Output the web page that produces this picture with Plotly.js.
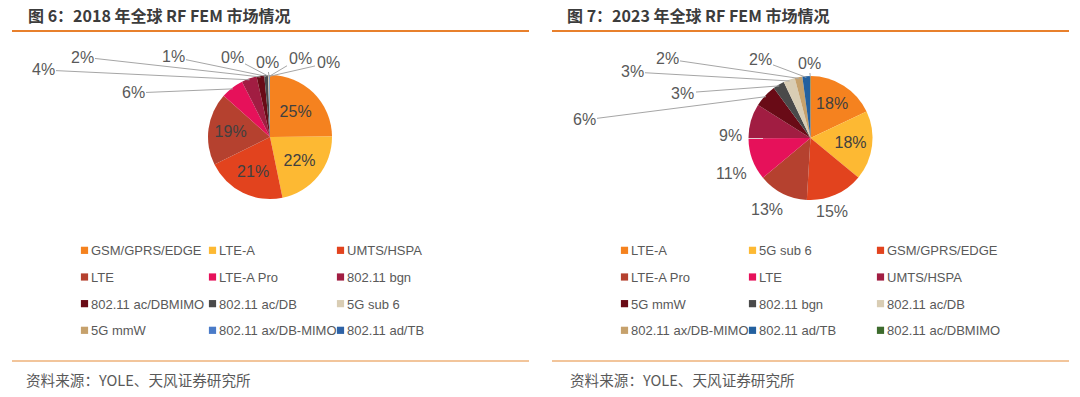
<!DOCTYPE html>
<html><head><meta charset="utf-8">
<script src="https://cdn.plot.ly/plotly-3.0.1.min.js"></script>
<style>
html,body{margin:0;padding:0;background:#fff;}
#wrap{width:1080px;height:397px;position:relative;overflow:hidden;background:#fff;}
.panel{position:absolute;top:0;width:540px;height:397px;}
#p1{left:0}
#p2{left:540px}
</style></head><body>
<div id="wrap"><div id="p1" class="panel"></div><div id="p2" class="panel"></div></div>
<script>
// ---------- DATA ----------
const categories2018 = ['GSM/GPRS/EDGE','LTE-A','UMTS/HSPA','LTE','LTE-A Pro','802.11 bgn','802.11 ac/DBMIMO','802.11 ac/DB','5G sub 6','5G mmW','802.11 ax/DB-MIMO','802.11 ad/TB'];
const values2018 = [25, 22, 21, 19, 6, 4, 2, 1, 0.2, 0.1, 0.1, 0.1];
const categories2023 = ['LTE-A','5G sub 6','GSM/GPRS/EDGE','LTE-A Pro','LTE','UMTS/HSPA','5G mmW','802.11 bgn','802.11 ac/DB','802.11 ax/DB-MIMO','802.11 ad/TB','802.11 ac/DBMIMO'];
const values2023 = [18, 18, 15, 13, 11, 9, 6, 3, 3, 2, 2, 0.1];
const title2018 = '图 6：2018 年全球 RF FEM 市场情况';
const title2023 = '图 7：2023 年全球 RF FEM 市场情况';
const sourceText = '资料来源：YOLE、天风证券研究所';

// ---------- STYLE / LAYOUT ----------
const colors2018 = ['#F5821F','#FDB933','#E2431E','#B5412F','#E6115A','#A11D42','#690B16','#4A4A4A','#D9CDB4','#C6A16C','#4A7BC8','#2E62A6'];
const colors2023 = ['#F5821F','#FDB933','#E2431E','#B5412F','#E6115A','#A11D42','#690B16','#4A4A4A','#D9CDB4','#C6A16C','#23609F','#3D6B2D'];
// label placement per slice: 'in' = inside, [x,y,leaderLine] = outside label position in px
const labels2018 = ['in','in','in','in',[133,93,true],[43,70,true],[82,57,true],[173,57,true],[232,57,true],[267,62,true],[300,58,true],[328,63,true]];
const labels2023 = ['in','in',[310,212,false],[227,209,false],[191,173,false],[190,125,false],[44,120,true],[143,93,true],[92,72,true],[127,59,true],[220,60,true],[269,63,true]];

const W = 540, H = 397, GW = 440;
const PX = px => px / GW, PY = py => 1 - py / H;
const FONT = 'Liberation Sans, Arial, sans-serif';
const CJK = 'Noto Sans CJK SC, sans-serif';

function buildPanel(div, cats, vals, cols, labelPlan, title, cx, cy, R, titleX, srcX) {
  const total = vals.reduce((a, b) => a + b, 0);
  const pct = vals.map(v => Math.round(v / total * 100) + '%');
  const text = pct.map((p, i) => labelPlan[i] === 'in' ? p : '');
  const annotations = [];
  let cum = 0;
  vals.forEach((v, i) => {
    const mid = (cum + v / 2) / total * 2 * Math.PI;
    cum += v;
    const plan = labelPlan[i];
    if (plan === 'in') return;
    const [lx, ly, line] = plan;
    if (line) {
      const px = cx + R * 0.98 * Math.sin(mid), py = cy - R * 0.98 * Math.cos(mid);
      annotations.push({xref:'paper', yref:'paper', x: PX(px), y: PY(py), ax: lx - px, ay: ly - py,
        axref:'pixel', ayref:'pixel', showarrow:true, arrowhead:0, arrowwidth:1, arrowcolor:'#A6A6A6', standoff:0,
        text: pct[i], font:{family:FONT, size:16, color:'#595959'}});
    } else {
      annotations.push({xref:'paper', yref:'paper', x: PX(lx), y: PY(ly), showarrow:false,
        text: pct[i], font:{family:FONT, size:16, color:'#595959'}});
    }
  });
  annotations.push({xref:'paper', yref:'paper', x: PX(titleX), y: PY(15), xanchor:'left', yanchor:'middle', showarrow:false,
    text: title, font:{family:CJK, size:16, color:'#3C3C3C', weight:700}});
  annotations.push({xref:'paper', yref:'paper', x: PX(srcX), y: PY(379), xanchor:'left', yanchor:'middle', showarrow:false,
    text: sourceText, font:{family:CJK, size:14.6, color:'#595959'}});

  const trace = {
    type:'pie', labels: cats.map(c => '<span style="font-size:13px">' + c + '</span>'), values: vals,
    sort:false, direction:'clockwise', rotation:0,
    marker:{colors: cols, line:{width:0}},
    text: text, textinfo:'text', textposition:'inside', insidetextorientation:'horizontal',
    textfont:{family:FONT, size:16, color:'#404040'},
    hoverinfo:'none',
    domain:{x:[PX(cx - R), PX(cx + R)], y:[PY(cy + R), PY(cy - R)]}
  };
  const layout = {
    width: W, height: H, margin:{l:0, r:W - GW, t:0, b:0},
    paper_bgcolor:'#ffffff', plot_bgcolor:'#ffffff',
    showlegend:true,
    legend:{orientation:'h', x: PX(51), xanchor:'left', y: PY(230), yanchor:'top',
      entrywidth:83, entrywidthmode:'pixels', traceorder:'normal',
      font:{family:FONT, size:18.2, color:'#595959'}, bgcolor:'rgba(0,0,0,0)'},
    annotations: annotations,
    shapes:[
      {type:'line', xref:'paper', yref:'paper', x0:PX(12), x1:PX(529), y0:PY(31), y1:PY(31), line:{color:'#E8802C', width:2}},
      {type:'line', xref:'paper', yref:'paper', x0:PX(12), x1:PX(529), y0:PY(361), y1:PY(361), line:{color:'#EEB27A', width:1.5}}
    ]
  };
  return Plotly.newPlot(div, [trace], layout, {staticPlot:true, displayModeBar:false}).then(gd => {
    gd.querySelectorAll('.legend path.legendpie').forEach(p => p.setAttribute('transform', 'translate(33.5,2) scale(0.6)'));
    gd.querySelectorAll('.legend [clip-path]').forEach(el => el.removeAttribute('clip-path'));
    return gd;
  });
}

buildPanel('p1', categories2018, values2018, colors2018, labels2018, title2018, 270, 137, 62, 26, 24);
buildPanel('p2', categories2023, values2023, colors2023, labels2023, title2023, 270.5, 138, 62, 25, 28);
</script>
</body></html>
